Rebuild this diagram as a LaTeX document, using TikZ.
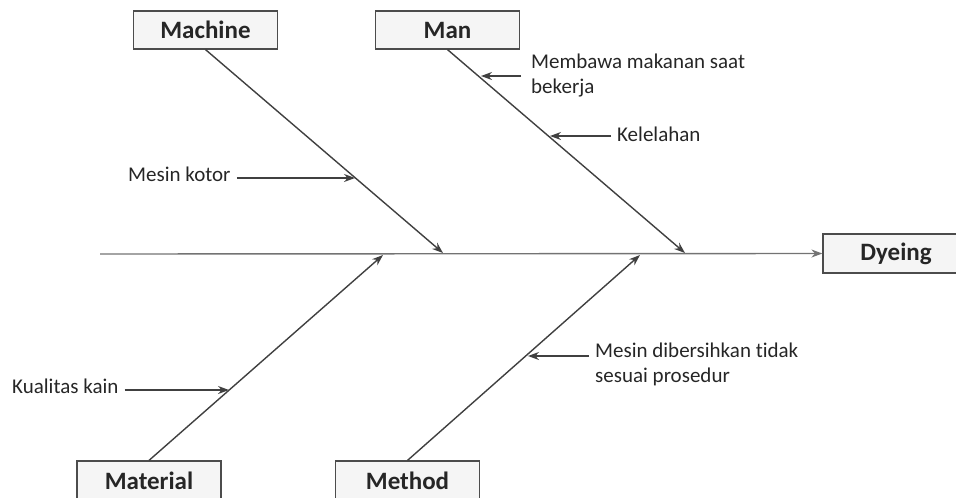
\documentclass[tikz,border=0pt]{standalone}
\usepackage{fontspec}
\setmainfont{Carlito}[Ligatures=NoCommon]
\usetikzlibrary{arrows.meta}

\begin{document}
\begin{tikzpicture}[
  x=1pt, y=-1pt,
  catbox/.style={rectangle, draw=black!70, fill=black!4, line width=1.2pt, minimum width=144pt, minimum height=38pt, inner sep=0pt, font=\fontsize{25}{29}\selectfont\bfseries, text=black!85},
  cause/.style={inner xsep=6pt, inner ysep=0pt, font=\fontsize{21}{25}\selectfont, text=black!85, align=left},
  bone/.style={draw=black!75, line width=1.4pt},
  spine/.style={draw=black!55, line width=1.4pt},
  twig/.style={draw=black!75, line width=1.2pt},
  >={Stealth[length=11pt,width=8pt]}
]
  \useasboundingbox (0,0) rectangle (956,498);
  \clip (0,0) rectangle (956,498);

  % Kotak kategori
  \node[catbox] (mach) at (205.5,30) {Machine};
  \node[catbox] (man) at (447.5,30) {Man};
  \node[catbox, minimum width=146pt, minimum height=39pt] (dye) at (896,253.5) {Dyeing};
  \node[catbox, minimum height=40pt] (mat) at (149,481) {Material};
  \node[catbox, minimum height=40pt] (meth) at (407.5,481) {Method};

  % Tulang utama
  \coordinate (tail) at (100,254);
  \draw[spine, ->] (tail) -- (dye.west);

  % Tulang kategori
  \coordinate (jmach) at (443,253);
  \coordinate (jman) at (685,253);
  \coordinate (jmat) at (383,255);
  \coordinate (jmeth) at (640,255);
  \draw[bone, ->] (mach.south) -- (jmach);
  \draw[bone, ->] (man.south) -- (jman);
  \draw[bone, ->] (mat.north) -- (jmat);
  \draw[bone, ->] (meth.north) -- (jmeth);

  % Titik sebab pada tulang
  \coordinate (c1) at (355,178);
  \coordinate (c2) at (481,76);
  \coordinate (c3) at (550,136);
  \coordinate (c4) at (229,390);
  \coordinate (c5) at (528,356);

  % Sebab
  \node[cause, anchor=base west] (kotor) at (122,181) {Mesin kotor};
  \node[cause, anchor=north west, inner xsep=10pt] (makan) at (521,54) {Membawa makanan saat\\bekerja};
  \node[cause, anchor=base west] (lelah) at (611,141) {Kelelahan};
  \node[cause, anchor=base west] (kain) at (6,393) {Kualitas kain};
  \node[cause, anchor=north west] (bersih) at (589,343) {Mesin dibersihkan tidak\\sesuai prosedur};

  \draw[twig, ->] (kotor.east |- c1) -- (c1);
  \draw[twig, ->] (makan.west |- c2) -- (c2);
  \draw[twig, ->] (lelah.west |- c3) -- (c3);
  \draw[twig, ->] (kain.east |- c4) -- (c4);
  \draw[twig, ->] (bersih.west |- c5) -- (c5);

\end{tikzpicture}
\end{document}
